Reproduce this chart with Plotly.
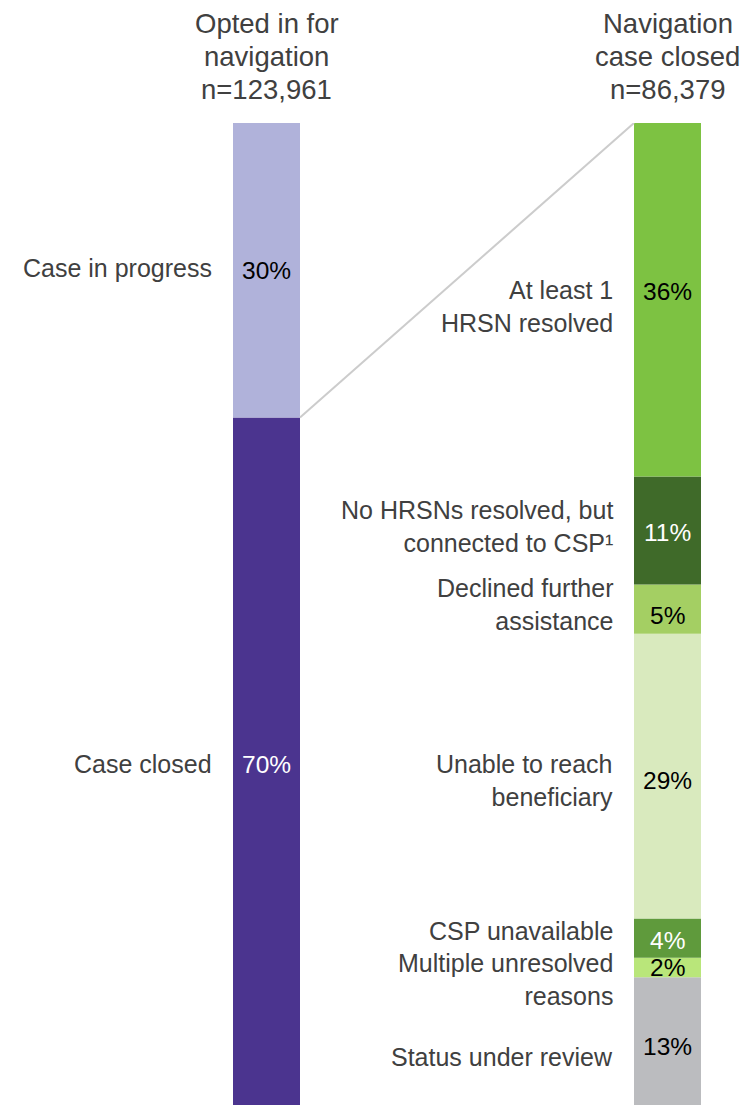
import plotly.graph_objects as go

# Data
left_title = ["Opted in for", "navigation", "n=123,961"]
right_title = ["Navigation", "case closed", "n=86,379"]

left_labels = ["Case closed", "Case in progress"]          # bottom -> top
left_values = [70, 30]
left_colors = ["#4B348F", "#B0B2DA"]
left_text_colors = ["white", "black"]

right_labels = ["Status under review", "Multiple unresolved<br>reasons", "CSP unavailable",
                "Unable to reach<br>beneficiary", "Declined further<br>assistance",
                "No HRSNs resolved, but<br>connected to CSP¹", "At least 1<br>HRSN resolved"]
right_values = [13, 2, 4, 29, 5, 11, 36]
right_colors = ["#BBBCBF", "#B9E67A", "#5F9A3C", "#D9EABE", "#A4CF63", "#3F6A29", "#7DC242"]
right_text_colors = ["black", "black", "white", "black", "black", "white", "black"]
# pixel offsets (positive = up) of labels relative to segment centers
right_label_shift = [-16, -12, 7, -4, 5, 4, -7]
right_pct_shift = [-5, 0, -2, -4, -6, -2, 8]
left_label_shift = [-3, 2]
left_pct_shift = [-3, 0]
title_line_shift = [100, 67, 34]

W, H = 755, 1105
PAGE_OFF = 8          # default body margin of the html page
TOP = 123
x0_center, x1_center, bar_px = 266.5, 667.5, 67
unit = x1_center - x0_center
bw = bar_px / unit
xmin = -(x0_center - PAGE_OFF) / unit
xmax = xmin + (W - PAGE_OFF) / unit

FONT = "Liberation Sans, Arial, sans-serif"
fig = go.Figure()

def add_stack(xpos, labels, values, colors, tcolors, label_shift, pct_shift):
    base = 0
    for i, (lab, v, c, tc) in enumerate(zip(labels, values, colors, tcolors)):
        fig.add_trace(go.Bar(x=[xpos], y=[v], base=[base], width=bw,
                             marker=dict(color=c, line=dict(width=0)),
                             showlegend=False, hoverinfo="skip"))
        mid = base + v / 2
        fig.add_annotation(x=xpos, y=mid, text=f"{v}%", showarrow=False,
                           xanchor="center", yanchor="middle", yshift=pct_shift[i],
                           font=dict(family=FONT, size=24.5, color=tc))
        fig.add_annotation(x=xpos - bw / 2, y=mid, text=lab, showarrow=False,
                           xanchor="right", yanchor="middle", align="right",
                           xshift=-19, yshift=label_shift[i],
                           font=dict(family=FONT, size=25, color="#404040"))
        base += v

add_stack(0, left_labels, left_values, left_colors, left_text_colors,
          left_label_shift, left_pct_shift)
add_stack(1, right_labels, right_values, right_colors, right_text_colors,
          right_label_shift, right_pct_shift)

# connector lines between closed segment and right bar
closed_top = left_values[0]
total_right = sum(right_values)
fig.add_trace(go.Scatter(x=[bw / 2, 1 - bw / 2], y=[closed_top, total_right],
                         mode="lines", line=dict(color="#CCCCCC", width=2),
                         showlegend=False, hoverinfo="skip"))

for xpos, lines in [(0, left_title), (1, right_title)]:
    for line, sh in zip(lines, title_line_shift):
        fig.add_annotation(x=xpos, y=1, xref="x", yref="paper", text=line, showarrow=False,
                           xanchor="center", yanchor="middle", yshift=sh,
                           font=dict(family=FONT, size=27.5, color="#404040"))

fig.update_layout(
    width=W, height=H, margin=dict(l=0, r=PAGE_OFF, t=TOP - PAGE_OFF, b=PAGE_OFF),
    paper_bgcolor="white", plot_bgcolor="white", barmode="overlay",
    xaxis=dict(range=[xmin, xmax], visible=False, fixedrange=True),
    yaxis=dict(range=[0, 100], visible=False, fixedrange=True),
)
fig.write_html("out.html")
